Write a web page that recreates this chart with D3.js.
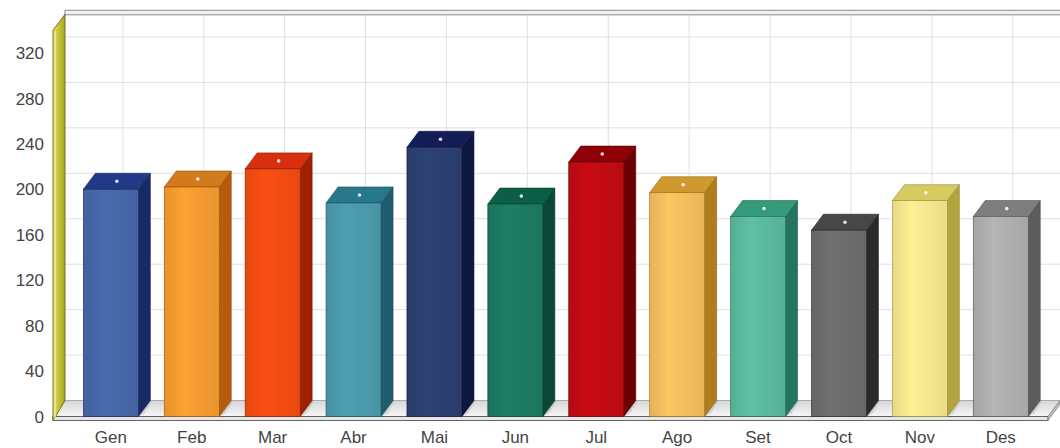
<!DOCTYPE html>
<html>
<head>
<meta charset="utf-8">
<script src="https://cdn.jsdelivr.net/npm/d3@7"></script>
<style>
  html, body { margin: 0; padding: 0; background: #fff; }
  svg text { font-family: Arial, "Liberation Sans", sans-serif; fill: #444; }
</style>
</head>
<body>
<div id="chart"></div>
<script>
const months = ['Gen', 'Feb', 'Mar', 'Abr', 'Mai', 'Jun', 'Jul', 'Ago', 'Set', 'Oct', 'Nov', 'Des'];
const values = [200, 202, 218, 188, 237, 187, 224, 197, 176, 164, 190, 176];
const yTicks = [0, 40, 80, 120, 160, 200, 240, 280, 320];

// front, side, top colours per month
const faceColors = ['#4666a6', '#f39a30', '#f04c12', '#4a98aa', '#2b3f70', '#1b7a60', '#c00b12', '#f1bd5c', '#5ab89b', '#6b6b6b', '#f1e68c', '#adadad'];
const sideColors = ['#172a66', '#b55c0c', '#9e2200', '#1e5c6e', '#0e173f', '#094836', '#6c0004', '#b07c1e', '#237560', '#2a2a2a', '#b3a43e', '#5c5c5c'];
const topColors  = ['#22398a', '#d27a1c', '#d8300e', '#28788a', '#141d58', '#0d5e46', '#8e0008', '#d0992e', '#349a7a', '#474747', '#d6c960', '#7e7e7e'];

const W = 1060, H = 448;
const DX = 12, DY = -16;       // depth offset of the back plane

const svg = d3.select('#chart').append('svg')
    .attr('width', W)
    .attr('height', H);

const x = d3.scaleBand()
    .domain(months)
    .range([70.4, 1041.2])
    .paddingInner(0.32)
    .paddingOuter(0.16);

const y = d3.scaleLinear()
    .domain([0, 340])
    .range([416.5, 30.3]);

const defs = svg.append('defs');
months.forEach((m, i) => {
    const g = defs.append('linearGradient').attr('id', 'face' + i);
    g.append('stop').attr('offset', '0%').attr('stop-color', d3.color(faceColors[i]).darker(0.15));
    g.append('stop').attr('offset', '35%').attr('stop-color', d3.color(faceColors[i]).brighter(0.12));
    g.append('stop').attr('offset', '100%').attr('stop-color', d3.color(faceColors[i]).darker(0.1));
});
const floorGrad = defs.append('linearGradient').attr('id', 'floorGrad')
    .attr('x1', 0).attr('y1', 0).attr('x2', 0).attr('y2', 1);
floorGrad.append('stop').attr('offset', '0%').attr('stop-color', '#d6d6d6');
floorGrad.append('stop').attr('offset', '100%').attr('stop-color', '#f6f6f6');
const wallGrad = defs.append('linearGradient').attr('id', 'wallGrad');
wallGrad.append('stop').attr('offset', '0%').attr('stop-color', '#e2df72');
wallGrad.append('stop').attr('offset', '50%').attr('stop-color', '#c8c234');
wallGrad.append('stop').attr('offset', '100%').attr('stop-color', '#a8a420');

const x0 = 53, x1 = 1048;   // front extent of wall/floor
const yTop = y(340), yBase = y(0);

// back wall grid
const grid = svg.append('g').attr('class', 'grid');
grid.selectAll('.hgrid')
    .data(yTicks.slice(1))
    .enter().append('line')
    .attr('x1', x0 + DX).attr('x2', W)
    .attr('y1', (d) => y(d) + DY).attr('y2', (d) => y(d) + DY)
    .attr('stroke', '#e0e0e0');
grid.selectAll('.vgrid')
    .data(months)
    .enter().append('line')
    .attr('x1', (d) => x(d) + x.bandwidth() / 2 + DX)
    .attr('x2', (d) => x(d) + x.bandwidth() / 2 + DX)
    .attr('y1', yTop + DY).attr('y2', yBase + DY)
    .attr('stroke', '#e0e0e0');

// top border of back wall
svg.append('rect')
    .attr('x', x0 + DX).attr('y', yTop + DY - 4)
    .attr('width', W - x0 - DX + 2).attr('height', 4.5)
    .attr('fill', '#f2f2f2').attr('stroke', '#8c8c8c').attr('stroke-width', 1);

// floor slab
svg.append('path')
    .attr('d', `M${x0},${yBase}L${x1},${yBase}L${x1 + DX},${yBase + DY}L${x0 + DX},${yBase + DY}Z`)
    .attr('fill', 'url(#floorGrad)').attr('stroke', '#9a9a9a').attr('stroke-width', 0.8);
svg.append('rect')
    .attr('x', x0).attr('y', yBase).attr('width', x1 - x0).attr('height', 4)
    .attr('fill', '#e6e6e6').attr('stroke', '#555').attr('stroke-width', 0.9);
svg.append('path')
    .attr('d', `M${x1},${yBase}L${x1 + DX},${yBase + DY}L${x1 + DX},${yBase + DY + 4}L${x1},${yBase + 4}Z`)
    .attr('fill', '#bdbdbd').attr('stroke', '#777').attr('stroke-width', 0.6);

// left wall
svg.append('path')
    .attr('d', `M${x0},${yTop}L${x0 + DX},${yTop + DY}L${x0 + DX},${yBase + DY}L${x0},${yBase + 4}Z`)
    .attr('fill', 'url(#wallGrad)').attr('stroke', '#6e6a10').attr('stroke-width', 0.9);
svg.append('line')
    .attr('x1', x0 + 2).attr('x2', x0 + 2)
    .attr('y1', yTop + 1).attr('y2', yBase + 2)
    .attr('stroke', '#f4f2b8').attr('stroke-width', 1.2);

// bars
const bw = x.bandwidth();
const bars = svg.selectAll('.bar')
    .data(months.map((m, i) => ({ m, v: values[i], i })))
    .enter().append('g')
    .attr('class', 'bar');

bars.append('path')       // soft shadow on the floor
    .attr('d', (d) => {
        const l = x(d.m) + bw, b = yBase;
        return `M${l},${b}L${l + 6},${b - 3}L${l + DX + 2},${b + DY}L${l + DX},${b + DY}Z`;
    })
    .attr('fill', '#b8b8b8').attr('opacity', 0.5);

bars.append('path')       // side
    .attr('d', (d) => {
        const r = x(d.m) + bw, t = y(d.v);
        return `M${r},${t}L${r + DX},${t + DY}L${r + DX},${yBase + DY}L${r},${yBase}Z`;
    })
    .attr('fill', (d) => sideColors[d.i])
    .attr('stroke', (d) => d3.color(sideColors[d.i]).darker(0.6))
    .attr('stroke-width', 0.6);

bars.append('path')       // top
    .attr('d', (d) => {
        const l = x(d.m), t = y(d.v);
        return `M${l},${t}L${l + DX},${t + DY}L${l + bw + DX},${t + DY}L${l + bw},${t}Z`;
    })
    .attr('fill', (d) => topColors[d.i])
    .attr('stroke', (d) => d3.color(sideColors[d.i]).darker(0.5))
    .attr('stroke-width', 0.6);

bars.append('rect')       // front
    .attr('x', (d) => x(d.m))
    .attr('y', (d) => y(d.v))
    .attr('width', bw)
    .attr('height', (d) => yBase - y(d.v))
    .attr('fill', (d) => `url(#face${d.i})`)
    .attr('stroke', (d) => d3.color(sideColors[d.i]).darker(0.4))
    .attr('stroke-width', 0.6);

bars.append('circle')     // value marker
    .attr('cx', (d) => x(d.m) + bw / 2 + DX / 2)
    .attr('cy', (d) => y(d.v) + DY / 2)
    .attr('r', 1.8)
    .attr('fill', '#fff')
    .attr('opacity', 0.85);

// axis labels
svg.append('g').selectAll('text')
    .data(yTicks)
    .enter().append('text')
    .attr('x', 44)
    .attr('y', (d) => y(d))
    .attr('dy', '0.36em')
    .attr('text-anchor', 'end')
    .style('font-size', '17px')
    .text((d) => d);

svg.append('g').selectAll('text')
    .data(months)
    .enter().append('text')
    .attr('x', (d) => x(d) + bw / 2)
    .attr('y', 437)
    .attr('dy', '0.36em')
    .attr('text-anchor', 'middle')
    .style('font-size', '17px')
    .text((d) => d);
</script>
</body>
</html>
